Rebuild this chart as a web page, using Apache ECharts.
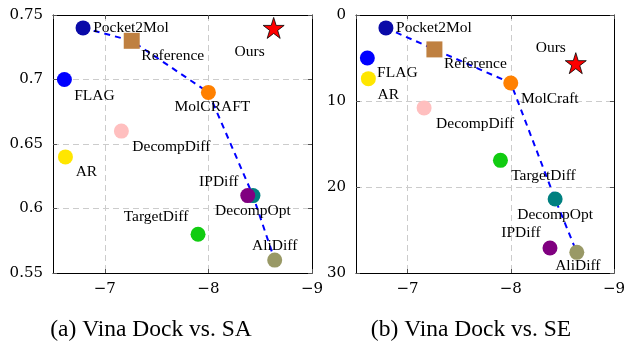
<!DOCTYPE html>
<html><head><meta charset="utf-8">
<script src="https://cdn.jsdelivr.net/npm/echarts@6/dist/echarts.min.js"></script>
<style>html,body{margin:0;padding:0;background:#fff}#c{width:628px;height:341px}</style>
</head><body><div id="c"></div>
<script>
// ---- data ----
const methods   = ['Pocket2Mol','Reference','FLAG','AR','MolCRAFT','DecompDiff','TargetDiff','DecompOpt','IPDiff','AliDiff','Ours'];
const labelsA   = ['Pocket2Mol','Reference','FLAG','AR','MolCRAFT','DecompDiff','TargetDiff','DecompOpt','IPDiff','AliDiff','Ours'];
const labelsB   = ['Pocket2Mol','Reference','FLAG','AR','MolCraft','DecompDiff','TargetDiff','DecompOpt','IPDiff','AliDiff','Ours'];
const vinaDock  = [-6.79,-7.26,-6.61,-6.62,-8.00,-7.16,-7.90,-8.43,-8.38,-8.64,-8.63];
const saValues  = [0.74,0.73,0.70,0.64,0.69,0.66,0.58,0.61,0.61,0.56,0.74];
const seValues  = [1.5,4.0,5.0,7.4,7.9,10.8,16.9,21.4,27.1,27.6,5.6];
const frontier  = ['Pocket2Mol','Reference','MolCRAFT','DecompOpt','AliDiff'];
const xTicks    = [-9,-8,-7];
const saTicks   = [0.55,0.6,0.65,0.7,0.75];
const seTicks   = [0,10,20,30];
const captions  = ['(a) Vina Dock vs. SA','(b) Vina Dock vs. SE'];

// ---- styles ----
const colors = {Pocket2Mol:'#0a0aa8',Reference:'#bf8040',FLAG:'#0000ff',AR:'#ffe600',MolCRAFT:'#ff8000',
  DecompDiff:'#ffbfbf',TargetDiff:'#11cc11',DecompOpt:'#008080',IPDiff:'#800080',AliDiff:'#999966',Ours:'#ff0000'};
const offA = {Pocket2Mol:[48,0],Reference:[41,15],FLAG:[30,16],AR:[21,15],MolCRAFT:[4,15],DecompDiff:[50,16],
  TargetDiff:[-42,-17],DecompOpt:[0,15],IPDiff:[-29,-14],AliDiff:[0,-14],Ours:[-24,24]};
const offB = {Pocket2Mol:[48,0],Reference:[41,15],FLAG:[30,15],AR:[20,16],MolCRAFT:[39,16],DecompDiff:[51,16],
  TargetDiff:[43,16],DecompOpt:[0,16],IPDiff:[-29,-15],AliDiff:[1,14],Ours:[-25,-15]};

function starPath(){
  let p='path://';
  for(let i=0;i<10;i++){
    const r = i%2===0?1:0.382, a = -Math.PI/2 + i*Math.PI/5;
    p += (i===0?'M':'L') + (r*Math.cos(a)).toFixed(4)+','+(r*Math.sin(a)).toFixed(4)+' ';
  }
  return p+'Z';
}
const STAR = starPath();
const SERIF = '"Liberation Serif", "Times New Roman", serif';
const TICKFONT = '"DejaVu Serif", serif';
const minus = v => (v<0?'\u2212':'')+Math.abs(v);

function xAxes(gi){
  const base = {type:'value',gridIndex:gi,min:-9,max:-6.5,interval:1,inverse:true,
    axisLine:{show:true,onZero:false,lineStyle:{color:'#000',width:1}},
    axisTick:{show:true,inside:true,length:4,lineStyle:{color:'#555'}}};
  return [
    Object.assign({},base,{position:'bottom',
      axisLabel:{show:true,showMaxLabel:false,margin:9,color:'#000',fontFamily:TICKFONT,fontSize:15,
        formatter:v=>xTicks.includes(v)?minus(v):''},
      splitLine:{show:true,lineStyle:{color:'#cccccc',type:[6,4],width:1}}}),
    Object.assign({},base,{position:'top',axisLabel:{show:false},splitLine:{show:false}})
  ];
}
function yAxes(gi,min,max,interval,inverse,ticks){
  const base = {type:'value',gridIndex:gi,min:min,max:max,interval:interval,inverse:inverse,
    axisLine:{show:true,onZero:false,lineStyle:{color:'#000',width:1}},
    axisTick:{show:true,inside:true,length:4,lineStyle:{color:'#555'}}};
  return [
    Object.assign({},base,{position:'left',
      axisLabel:{show:true,margin:10,color:'#000',fontFamily:TICKFONT,fontSize:15,
        formatter:v=>ticks.some(t=>Math.abs(t-v)<1e-9)?String(v):''},
      splitLine:{show:true,lineStyle:{color:'#cccccc',type:[6,4],width:1}}}),
    Object.assign({},base,{position:'right',axisLabel:{show:false},splitLine:{show:false}})
  ];
}

function scatterData(yVals, labels, offs){
  return methods.map((m,i)=>{
    const sym = m==='Ours'?STAR:(m==='Reference'?'rect':'circle');
    const size = m==='Ours'?21:(m==='Reference'?16:15);
    return {
      value:[vinaDock[i],yVals[i]], name:m, symbol:sym, symbolSize:size,
      itemStyle:{color:colors[m], borderColor: m==='Ours'?'#000':'transparent', borderWidth: m==='Ours'?0.8:0, opacity:1},
      label:{show:true,position:'inside',offset:offs[m],formatter:labels[i],color:'#000',
        fontFamily:SERIF,fontSize:15.5,align:'center',verticalAlign:'middle'}
    };
  });
}
function frontierData(yVals){
  return frontier.map(n=>{const i=methods.indexOf(n);return [vinaDock[i],yVals[i]];});
}

const chart = echarts.init(document.getElementById('c'),null,{renderer:'canvas'});
chart.setOption({
  animation:false,
  grid:[{left:53,top:15,width:259,height:258},{left:356,top:15,width:258,height:258}],
  xAxis:[...xAxes(0),...xAxes(1)],
  yAxis:[...yAxes(0,0.55,0.75,0.05,false,saTicks),...yAxes(1,0,30,10,true,seTicks)],
  series:[
    {type:'line',xAxisIndex:0,yAxisIndex:0,data:frontierData(saValues),symbol:'none',z:2,silent:true,
      lineStyle:{color:'#0000ff',width:2,type:[6,5]}},
    {type:'scatter',xAxisIndex:0,yAxisIndex:0,data:scatterData(saValues,labelsA,offA),z:3,silent:true},
    {type:'line',xAxisIndex:2,yAxisIndex:2,data:frontierData(seValues),symbol:'none',z:2,silent:true,
      lineStyle:{color:'#0000ff',width:2,type:[6,5]}},
    {type:'scatter',xAxisIndex:2,yAxisIndex:2,data:scatterData(seValues,labelsB,offB),z:3,silent:true}
  ],
  graphic:[
    {type:'text',x:151,y:330,style:{text:captions[0],font:'23.5px '+SERIF,fill:'#000',textAlign:'center',textVerticalAlign:'middle'}},
    {type:'text',x:471,y:330,style:{text:captions[1],font:'23.5px '+SERIF,fill:'#000',textAlign:'center',textVerticalAlign:'middle'}}
  ]
});
</script></body></html>
